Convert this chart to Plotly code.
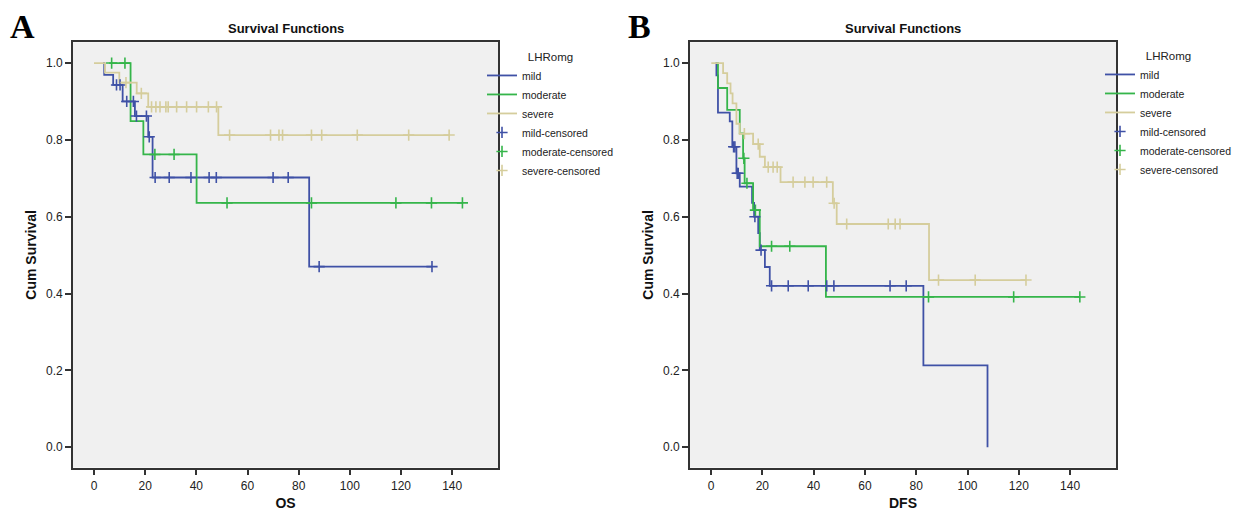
import plotly.graph_objects as go

# ---------------- data ----------------
# Panel A: OS
A_mild_t = [3.5, 4.0, 7.5, 11.2, 16.0, 21.2, 22.9, 84.1, 132.1]
A_mild_s = [1.0, 0.969, 0.943, 0.900, 0.862, 0.808, 0.702, 0.470, 0.470]
A_mild_cens_t = [8.8, 10.2, 12.8, 15.4, 16.6, 20.5, 21.6, 23.9, 29.4, 37.9, 45.0, 47.8, 70.0, 75.9, 88.0, 132.1]
A_mild_cens_s = [0.943, 0.943, 0.900, 0.900, 0.862, 0.862, 0.808, 0.702, 0.702, 0.702, 0.702, 0.702, 0.702, 0.702, 0.470, 0.470]

A_mod_t = [6.0, 14.3, 19.3, 40.1, 144.0]
A_mod_s = [1.0, 0.849, 0.762, 0.636, 0.636]
A_mod_cens_t = [6.9, 12.1, 23.8, 31.3, 52.0, 85.0, 118.0, 131.9, 144.0]
A_mod_cens_s = [1.0, 1.0, 0.762, 0.762, 0.636, 0.636, 0.636, 0.636, 0.636]

A_sev_t = [0.0, 4.3, 9.9, 16.7, 21.2, 48.6, 138.8]
A_sev_s = [1.0, 0.975, 0.949, 0.921, 0.886, 0.8125, 0.8125]
A_sev_cens_t = [12.5, 18.5, 22.5, 24.2, 25.8, 28.1, 29.0, 32.3, 36.2, 40.1, 44.7, 47.9,
                53.0, 69.0, 72.3, 73.7, 85.0, 89.0, 102.9, 123.0, 138.8]
A_sev_cens_s = [0.949, 0.921, 0.886, 0.886, 0.886, 0.886, 0.886, 0.886, 0.886, 0.886, 0.886, 0.886,
                0.8125, 0.8125, 0.8125, 0.8125, 0.8125, 0.8125, 0.8125, 0.8125, 0.8125]

# Panel B: DFS
B_mild_t = [1.7, 2.1, 2.7, 7.3, 8.3, 9.9, 11.2, 16.0, 16.8, 18.4, 19.0, 21.0, 22.9, 82.8, 107.8]
B_mild_s = [1.0, 0.968, 0.871, 0.848, 0.782, 0.713, 0.678, 0.636, 0.600, 0.557, 0.513, 0.469, 0.420, 0.213, 0.0]
B_mild_cens_t = [8.8, 9.3, 10.2, 10.6, 17.1, 19.5, 23.6, 30.1, 37.9, 45.1, 47.9, 69.8, 76.1]
B_mild_cens_s = [0.782, 0.782, 0.713, 0.713, 0.600, 0.513, 0.420, 0.420, 0.420, 0.420, 0.420, 0.420, 0.420]

B_mod_t = [2.1, 2.7, 6.3, 11.2, 12.5, 13.1, 16.4, 19.0, 44.8, 143.8]
B_mod_s = [1.0, 0.935, 0.878, 0.817, 0.752, 0.687, 0.617, 0.523, 0.391, 0.391]
B_mod_cens_t = [12.8, 14.0, 17.3, 23.6, 30.7, 84.8, 118.0, 143.8]
B_mod_cens_s = [0.752, 0.687, 0.617, 0.523, 0.523, 0.391, 0.391, 0.391]

B_sev_t = [0.1, 4.7, 6.3, 7.6, 8.4, 9.9, 11.2, 16.4, 19.0, 21.0, 27.1, 47.5, 49.0, 85.0, 122.8]
B_sev_s = [1.0, 0.974, 0.947, 0.921, 0.895, 0.842, 0.816, 0.789, 0.756, 0.729, 0.690, 0.635, 0.581, 0.435, 0.435]
B_sev_cens_t = [13.0, 18.4, 22.3, 24.2, 25.8, 32.0, 36.6, 39.8, 45.1, 48.0, 52.9, 69.1, 71.8, 73.7, 88.7, 103.0, 122.8]
B_sev_cens_s = [0.816, 0.789, 0.729, 0.729, 0.729, 0.690, 0.690, 0.690, 0.690, 0.635, 0.581, 0.581, 0.581, 0.581,
                0.435, 0.435, 0.435]

x_ticks = [0, 20, 40, 60, 80, 100, 120, 140]
y_ticks = [0.0, 0.2, 0.4, 0.6, 0.8, 1.0]
group_names = ["mild", "moderate", "severe"]
x_titles = ["OS", "DFS"]
panel_letters = ["A", "B"]
legend_title = "LHRomg"
plot_title = "Survival Functions"

# ---------------- style ----------------
COLORS = {"mild": "#3f51a6", "moderate": "#35b54a", "severe": "#d5cd9c"}
FONT = "Liberation Sans, Arial, sans-serif"
W, H = 1241, 514

fig = go.Figure()

panels = [
    ("x", "y", "legend", [(A_mild_t, A_mild_s), (A_mod_t, A_mod_s), (A_sev_t, A_sev_s)],
     [(A_mild_cens_t, A_mild_cens_s), (A_mod_cens_t, A_mod_cens_s), (A_sev_cens_t, A_sev_cens_s)]),
    ("x2", "y2", "legend2", [(B_mild_t, B_mild_s), (B_mod_t, B_mod_s), (B_sev_t, B_sev_s)],
     [(B_mild_cens_t, B_mild_cens_s), (B_mod_cens_t, B_mod_cens_s), (B_sev_cens_t, B_sev_cens_s)]),
]

for xa, ya, lg, curves, cens in panels:
    for name, (t, s) in zip(group_names, curves):
        fig.add_trace(go.Scatter(
            x=t, y=s, mode="lines", name=name, xaxis=xa, yaxis=ya, legend=lg,
            line=dict(shape="hv", color=COLORS[name], width=1.8), hoverinfo="skip"))
    for name, (t, s) in zip(group_names, cens):
        fig.add_trace(go.Scatter(
            x=t, y=s, mode="markers", name=name + "-censored", xaxis=xa, yaxis=ya, legend=lg,
            marker=dict(symbol="cross-thin", size=8, color=COLORS[name],
                        line=dict(color=COLORS[name], width=1.6)), hoverinfo="skip"))

y_dom = [1 - 467.5 / H, 1 - 42.3 / H]
x_doms = [[73 / W, 498 / W], [690 / W, 1116 / W]]

axis_common = dict(showline=True, mirror=True, linecolor="#333333", linewidth=1.6,
                   showgrid=False, zeroline=False, ticks="outside", ticklen=6, tickwidth=1.5,
                   tickcolor="#333333", tickfont=dict(family=FONT, size=12, color="#222222"),
                   automargin=False)

layout = dict(
    width=W, height=H, margin=dict(l=0, r=0, t=0, b=0),
    paper_bgcolor="white", plot_bgcolor="#f0f0f0",
    font=dict(family=FONT, color="#222222"),
    showlegend=True,
)
for i, (xd, xt) in enumerate(zip(x_doms, x_titles)):
    sfx = "" if i == 0 else "2"
    layout["xaxis" + sfx] = dict(axis_common, domain=xd, range=[-8.2, 157.9], tickvals=x_ticks,
                                 anchor="y" + sfx,
                                 title=dict(text="<b>%s</b>" % xt, font=dict(size=14, family=FONT, color="#111"),
                                            standoff=6))
    layout["yaxis" + sfx] = dict(axis_common, domain=y_dom, range=[-0.053, 1.054], tickvals=y_ticks,
                                 tickformat=".1f", anchor="x" + sfx,
                                 title=dict(text="<b>Cum Survival</b>", font=dict(size=14, family=FONT, color="#111"),
                                            standoff=6))

leg_common = dict(xanchor="left", yanchor="top", bgcolor="rgba(0,0,0,0)", borderwidth=0,
                  font=dict(family=FONT, size=10.5, color="#222222"), itemwidth=30,
                  tracegroupgap=0, itemclick=False, itemdoubleclick=False,
                  title=dict(text=legend_title, side="top center", font=dict(family=FONT, size=11.5, color="#222")))
layout["legend"] = dict(leg_common, x=482 / W, y=1 - 46 / H)
layout["legend2"] = dict(leg_common, x=1100 / W, y=1 - 45 / H)

annotations = []
for xd, letter, lx in zip(x_doms, panel_letters, [22 / W, 640 / W]):
    annotations.append(dict(text="<b>%s</b>" % plot_title, xref="paper", yref="paper",
                            x=(xd[0] + xd[1]) / 2, y=1 - 28 / H, xanchor="center", yanchor="middle",
                            showarrow=False, font=dict(family=FONT, size=13, color="#111")))
    annotations.append(dict(text="<b>%s</b>" % letter, xref="paper", yref="paper",
                            x=lx, y=1 - 26 / H, xanchor="center", yanchor="middle",
                            showarrow=False, font=dict(family="Liberation Serif, Times New Roman, serif",
                                                       size=34, color="#000")))
layout["annotations"] = annotations

fig.update_layout(**layout)
fig.write_html("out.html", config={"displayModeBar": False, "staticPlot": False},
               post_script="document.body.style.margin='0px';document.body.style.overflow='hidden';")
